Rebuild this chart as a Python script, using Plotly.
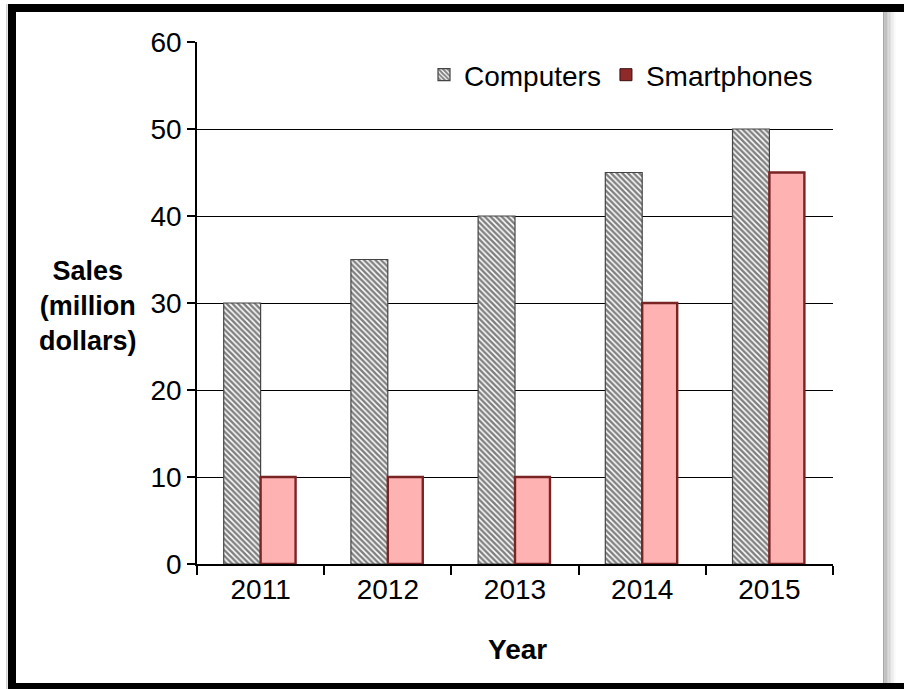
import plotly.graph_objects as go

years = ["2011", "2012", "2013", "2014", "2015"]
computers = [30, 35, 40, 45, 50]
smartphones = [10, 10, 10, 30, 45]
y_ticks = [0, 10, 20, 30, 40, 50, 60]

FONT = "Liberation Sans Narrow, Arial Narrow, Liberation Sans, Arial, sans-serif"
W, H = 904, 689
L, R, T, B = 197, 833, 42, 564

def px(x):
    return (x - L) / (R - L)

def py(y):
    return (B - y) / (B - T)

fig = go.Figure()

fig.add_trace(go.Bar(
    x=years, y=computers, name="Computers", offset=-0.29, width=0.29,
    marker=dict(color="white", line=dict(color="#444444", width=1.2),
                pattern=dict(shape="\\", fgcolor="black", bgcolor="white", size=4, solidity=0.62)),
    showlegend=True,
))
fig.add_trace(go.Bar(
    x=years, y=smartphones, name="Smartphones", offset=0.0, width=0.275,
    marker=dict(color="#FFB2B2", line=dict(color="#7a2424", width=2.4)),
    showlegend=False,
))
fig.add_trace(go.Bar(
    x=years, y=[None] * len(years), name="Smartphones", offset=0.0, width=0.275,
    marker=dict(color="#8E2A2A", line=dict(color="#3a0c0c", width=1)),
    showlegend=True, hoverinfo="skip",
))

shapes = []

def rect(x0, y0, x1, y1, color):
    shapes.append(dict(type="rect", xref="paper", yref="paper",
                       x0=px(x0), x1=px(x1), y0=py(y1), y1=py(y0),
                       fillcolor=color, line=dict(width=0), layer="above"))

rect(8, 4, 904, 12, "black")
rect(8, 4, 16, 689, "black")
rect(8, 683, 904, 689, "black")
rect(6, 4, 7.5, 689, "#d0d0d0")
grays = ["#a8a8a8", "#b4b4b4", "#c0c0c0", "#cbcbcb", "#d6d6d6", "#e0e0e0", "#e9e9e9", "#f1f1f1", "#f8f8f8"]
for i, g in enumerate(grays):
    rect(883 + i * 1.4, 12, 883 + (i + 1) * 1.4, 683, g)

annotations = [
    dict(text="<b>Sales<br>(million<br>dollars)</b>", xref="paper", yref="paper",
         x=px(88), y=py(306), xanchor="center", yanchor="middle", showarrow=False,
         font=dict(family=FONT, size=27, color="black"), align="center"),
    dict(text="<b>Year</b>", xref="paper", yref="paper",
         x=px(517), y=py(649), xanchor="center", yanchor="middle", showarrow=False,
         font=dict(family=FONT, size=28, color="black")),
]

fig.update_layout(
    width=W, height=H,
    margin=dict(l=L, r=W - R, t=T, b=H - B),
    paper_bgcolor="white", plot_bgcolor="white",
    barmode="overlay",
    font=dict(family=FONT, size=28, color="black"),
    shapes=shapes, annotations=annotations,
    legend=dict(orientation="h", x=px(818), xanchor="right", y=py(75), yanchor="middle",
                bgcolor="rgba(0,0,0,0)", font=dict(family=FONT, size=28, color="black"),
                itemwidth=30, traceorder="normal"),
    xaxis=dict(type="category", showgrid=False, showline=True, linecolor="black", linewidth=1.5,
               ticks="outside", tickson="boundaries", ticklen=9, tickcolor="black", tickwidth=1.5,
               tickfont=dict(family=FONT, size=28), range=[-0.5, 4.5]),
    yaxis=dict(range=[0, 60], tickvals=y_ticks, showgrid=True, gridcolor="black", gridwidth=1.3,
               showline=True, linecolor="black", linewidth=1.5, ticks="outside", ticklen=8,
               tickcolor="black", tickwidth=1.5, tickfont=dict(family=FONT, size=28),
               zeroline=False),
)

fig.write_html("out.html")
